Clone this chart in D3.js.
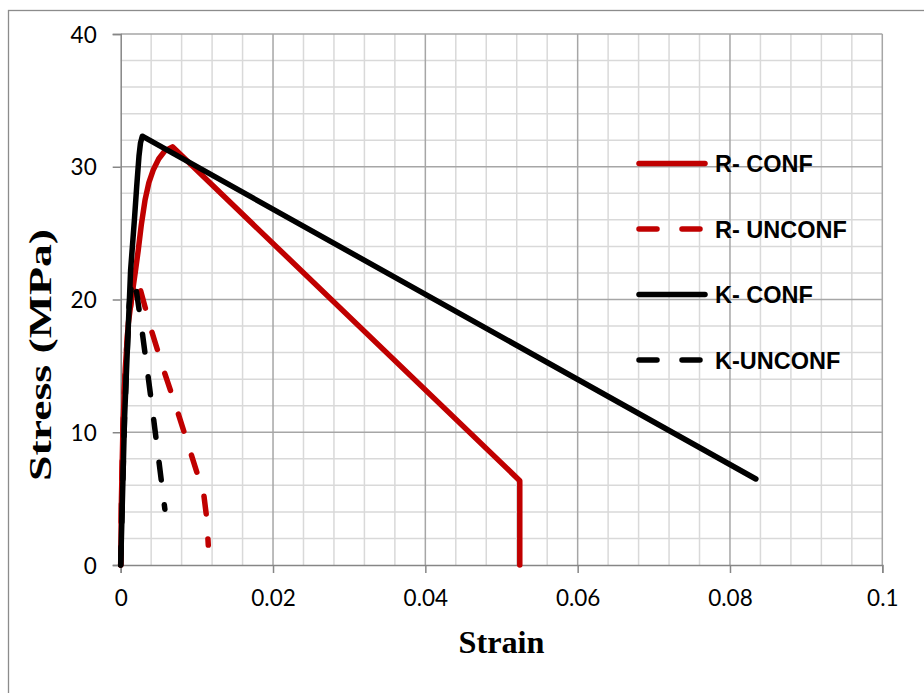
<!DOCTYPE html>
<html>
<head>
<meta charset="utf-8">
<script src="https://cdn.jsdelivr.net/npm/d3@7/dist/d3.min.js"></script>
<style>
  html, body { margin: 0; padding: 0; background: #fff; }
  svg { display: block; }
</style>
</head>
<body>
<svg id="chart" width="924" height="693"></svg>
<script>
// ---- data (strain, stress in MPa) ----
const rConf = [[0,0],[0.0001,5],[0.0003,10.5],[0.0006,14.8],[0.001,18.2],[0.0015,20.4],
  [0.0019,22.0],[0.0023,23.7],[0.0027,25.6],[0.0032,27.5],[0.0037,28.8],[0.0043,29.8],
  [0.005,30.6],[0.0058,31.2],[0.0068,31.5],[0.0524,6.35],[0.0524,0]];
const rUnconf = [[0,0],[0.0001,5],[0.0003,10.5],[0.0006,14.8],[0.001,18.2],[0.0015,20.4],
  [0.002,21.6],[0.0025,20.9],[0.0041,17.55],[0.00575,14.5],[0.0075,11.5],[0.0092,8.44],
  [0.0109,5.35],[0.0113,3.5],[0.0115,1.5]];
const kConf = [[0,0],[0.0005,11],[0.0013,22.2],[0.0018,26],[0.0021,28.5],[0.0024,30.8],
  [0.0026,31.8],[0.00284,32.3],[0.0834,6.48]];
const kUnconf = [[0,0],[0.0005,11],[0.0011,19.5],[0.0014,21],[0.0017,21.6],[0.0021,20.5],
  [0.00286,17.4],[0.0036,14.2],[0.0043,11.1],[0.005,7.9],[0.0058,4.2]];
const seriesNames = ["R- CONF","R- UNCONF","K- CONF","K-UNCONF"];
const xTicks = [0,0.02,0.04,0.06,0.08,0.1];
const xTickLabels = ["0","0.02","0.04","0.06","0.08","0.1"];
const yTicks = [0,10,20,30,40];
const yTickLabels = ["0","10","20","30","40"];

const series = [
  {name: seriesNames[0], data: rConf,   color: "#C00000", dash: null},
  {name: seriesNames[1], data: rUnconf, color: "#C00000", dash: "18,25"},
  {name: seriesNames[2], data: kConf,   color: "#000000", dash: null},
  {name: seriesNames[3], data: kUnconf, color: "#000000", dash: "18,25"}
];

const svg = d3.select("#chart");
const L = 120.7, R = 882.3, T = 34, B = 565;
const x = d3.scaleLinear().domain([0,0.1]).range([L,R]);
const y = d3.scaleLinear().domain([0,40]).range([B,T]);

// outer border (right/bottom lie outside the picture)
svg.append("rect").attr("x",8.5).attr("y",10.5).attr("width",1000).attr("height",1000)
  .attr("fill","none").attr("stroke","#8c8c8c").attr("stroke-width",1.3);

// minor grid
const g = svg.append("g");
const xMinor = d3.range(0, 0.1001, 0.004).filter(v => Math.abs(v/0.02 - Math.round(v/0.02)) > 1e-6);
const yMinor = d3.range(0, 40.01, 2).filter(v => v % 10 !== 0);
g.selectAll(".xm").data(xMinor).join("line")
  .attr("x1",d=>x(d)).attr("x2",d=>x(d)).attr("y1",T).attr("y2",B)
  .attr("stroke","#d9d9d9").attr("stroke-width",1.5);
g.selectAll(".ym").data(yMinor).join("line")
  .attr("y1",d=>y(d)).attr("y2",d=>y(d)).attr("x1",L).attr("x2",R)
  .attr("stroke","#d9d9d9").attr("stroke-width",1.5);
// major grid
g.selectAll(".xM").data(xTicks.slice(1)).join("line")
  .attr("x1",d=>x(d)).attr("x2",d=>x(d)).attr("y1",T).attr("y2",B)
  .attr("stroke","#a6a6a6").attr("stroke-width",1.5);
g.selectAll(".yM").data(yTicks.slice(1)).join("line")
  .attr("y1",d=>y(d)).attr("y2",d=>y(d)).attr("x1",L).attr("x2",R)
  .attr("stroke","#a6a6a6").attr("stroke-width",1.5);

// axes
const xAxis = d3.axisBottom(x).tickValues(xTicks).tickSize(8).tickPadding(17)
  .tickFormat((d,i)=>xTickLabels[i]);
const yAxis = d3.axisLeft(y).tickValues(yTicks).tickSize(8).tickPadding(16)
  .tickFormat((d,i)=>yTickLabels[i]);
const gx = svg.append("g").attr("transform",`translate(0,${B})`).call(xAxis);
const gy = svg.append("g").attr("transform",`translate(${L},0)`).call(yAxis);
[gx,gy].forEach(a=>{
  a.select(".domain").attr("stroke","#868686").attr("stroke-width",1.5);
  a.selectAll(".tick line").attr("stroke","#868686").attr("stroke-width",1.5);
  a.selectAll(".tick text").attr("fill","#000").style("font-family","Lato, 'Open Sans', sans-serif")
    .style("font-size","22.5px");
});
gy.selectAll(".tick text").attr("dy","0.36em");

// lines
const line = d3.line().x(d=>x(d[0])).y(d=>y(d[1]));
svg.append("g").selectAll("path").data(series).join("path")
  .attr("d",d=>line(d.data)).attr("fill","none")
  .attr("stroke",d=>d.color).attr("stroke-width",5.5)
  .attr("stroke-linecap","round").attr("stroke-linejoin","round")
  .attr("stroke-dasharray",d=>d.dash);

// legend
const legY = [163.5, 229, 294.5, 360];
const lg = svg.append("g").selectAll("g").data(series).join("g")
  .attr("transform",(d,i)=>`translate(0,${legY[i]})`);
lg.append("line").attr("x1",639).attr("x2",705).attr("y1",0).attr("y2",0)
  .attr("stroke",d=>d.color).attr("stroke-width",5.5).attr("stroke-linecap","round")
  .attr("stroke-dasharray",d=>d.dash ? "18,25" : null);
lg.append("text").attr("x",715).attr("y",8.5).text(d=>d.name)
  .style("font-family","'Liberation Sans', Arial, sans-serif").style("font-weight","bold")
  .style("font-size","23.5px").attr("fill","#000");

// axis titles
svg.append("text").attr("x",(L+R)/2).attr("y",653).attr("text-anchor","middle")
  .attr("textLength",86).attr("lengthAdjust","spacingAndGlyphs")
  .style("font-family","'Liberation Serif', 'Times New Roman', serif").style("font-weight","bold")
  .style("font-size","32px").text("Strain");
svg.append("text").attr("transform",`translate(51,355) rotate(-90)`).attr("text-anchor","middle")
  .attr("textLength",252).attr("lengthAdjust","spacingAndGlyphs")
  .style("font-family","'Liberation Serif', 'Times New Roman', serif").style("font-weight","bold")
  .style("font-size","32px").text("Stress (MPa)");
</script>
</body>
</html>
